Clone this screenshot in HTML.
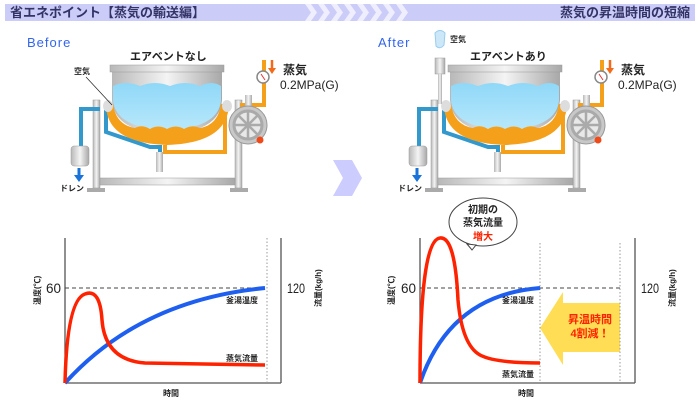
<!DOCTYPE html>
<html><head><meta charset="utf-8"><style>
html,body{margin:0;padding:0;background:#fff;width:699px;height:405px;overflow:hidden}
svg{display:block}
text{font-family:"Liberation Sans","Noto Sans CJK JP",sans-serif}
</style></head><body>
<svg width="699" height="405" viewBox="0 0 699 405" xmlns="http://www.w3.org/2000/svg">
<defs>
<linearGradient id="steel" x1="0" x2="1" y1="0" y2="0">
<stop offset="0" stop-color="#b8b8b8"/><stop offset="0.5" stop-color="#f4f4f4"/><stop offset="1" stop-color="#a8a8a8"/></linearGradient>
<linearGradient id="water" x1="0" x2="0" y1="0" y2="1">
<stop offset="0" stop-color="#8fd8f8"/><stop offset="1" stop-color="#b8e8fb"/></linearGradient>
<g id="kettle">
 <rect x="93" y="100" width="7" height="88" fill="url(#steel)" stroke="#999" stroke-width="0.5"/>
 <rect x="235" y="100" width="7" height="88" fill="url(#steel)" stroke="#999" stroke-width="0.5"/>
 <rect x="100" y="178" width="135" height="7" fill="url(#steel)" stroke="#999" stroke-width="0.5"/>
 <rect x="87" y="188" width="18" height="4" fill="#aaa"/>
 <rect x="230" y="188" width="18" height="4" fill="#aaa"/>
 <path d="M100 109 H81 V148" fill="none" stroke="#3399cc" stroke-width="4"/>
 <path d="M106 110 V132 L150 147 H160 V152" fill="none" stroke="#3399cc" stroke-width="4"/>
 <rect x="156" y="152" width="7" height="20" fill="url(#steel)"/>
 <rect x="71" y="146" width="18" height="20" rx="3" fill="url(#steel)" stroke="#999" stroke-width="0.5"/>
 <path d="M79 168 V176" stroke="#1a73d9" stroke-width="3"/>
 <polygon points="74,175 84,175 79,182" fill="#1a73d9"/>
 <path d="M165 145 V152 H225 V110" fill="none" stroke="#f5a01a" stroke-width="4"/>
 <path d="M112 72 V100 Q114 132 167 134 Q220 132 222 100 V72 Z" fill="url(#steel)"/>
 <path d="M113 86 Q125 80 140 86 Q155 80 170 86 Q185 80 200 86 Q212 80 221 86 V100 Q219 128 167 130 Q115 128 113 100 Z" fill="url(#water)"/>
 <path d="M106 104 H113 Q116 125 135 128 Q142 124 150 129 Q158 124 167 129 Q176 124 184 129 Q192 124 200 128 Q218 125 221 104 H229 Q228 143 167 145 Q106 143 106 104 Z" fill="#f5a01a"/>
 <rect x="110" y="65" width="114" height="7" fill="url(#steel)" stroke="#999" stroke-width="0.5"/>
 <ellipse cx="108" cy="106" rx="5" ry="6" fill="#ddd"/>
 <ellipse cx="227" cy="106" rx="5" ry="6" fill="#ddd"/>
 <path d="M264 60 V105 H240" fill="none" stroke="#f5a01a" stroke-width="4"/>
 <circle cx="263" cy="77" r="6" fill="#fff" stroke="#888" stroke-width="1.5"/>
 <line x1="261" y1="74" x2="265" y2="80" stroke="#e33" stroke-width="1"/>
 <path d="M272 60 V70" stroke="#f26a1a" stroke-width="2.5"/>
 <polygon points="268,68 276,68 272,74" fill="#f26a1a"/>
 <rect x="245" y="95" width="7" height="15" fill="url(#steel)"/>
 <circle cx="248" cy="125" r="19" fill="#c8c8c8" stroke="#999" stroke-width="1"/>
 <circle cx="248" cy="125" r="14" fill="#e8e8e8" stroke="#aaa" stroke-width="3"/>
 <g stroke="#aaa" stroke-width="2.5"><line x1="234" y1="125" x2="262" y2="125"/><line x1="248" y1="111" x2="248" y2="139"/><line x1="238" y1="115" x2="258" y2="135"/><line x1="258" y1="115" x2="238" y2="135"/></g>
 <circle cx="260" cy="140" r="3.5" fill="#f04a1a"/>
 <text x="283" y="74" font-size="12" font-weight="bold" fill="#222">蒸気</text>
 <text x="280" y="89" font-size="12" fill="#222">0.2MPa(G)</text>
 <text x="60" y="191" font-size="8" font-weight="bold" fill="#222">ドレン</text>
</g>
</defs>
<rect x="5" y="4" width="690" height="17" fill="#ccccf8"/>
<text x="10" y="17" font-size="13" font-weight="bold" fill="#333366">省エネポイント【蒸気の輸送編】</text>
<text x="690" y="17" font-size="13" font-weight="bold" fill="#333366" text-anchor="end">蒸気の昇温時間の短縮</text>
<g fill="#eeeeff">
<polygon points="305,4 311,4 317,12.5 311,21 305,21 311,12.5"/>
<polygon points="318,4 324,4 330,12.5 324,21 318,21 324,12.5"/>
<polygon points="331,4 337,4 343,12.5 337,21 331,21 337,12.5"/>
<polygon points="344,4 350,4 356,12.5 350,21 344,21 350,12.5"/>
<polygon points="357,4 363,4 369,12.5 363,21 357,21 363,12.5"/>
<polygon points="370,4 376,4 382,12.5 376,21 370,21 376,12.5"/>
<polygon points="383,4 389,4 395,12.5 389,21 383,21 389,12.5"/>
<polygon points="396,4 402,4 408,12.5 402,21 396,21 402,12.5"/>
</g>
<text x="27" y="47" font-size="13" fill="#3366ee" letter-spacing="1">Before</text>
<text x="378" y="47" font-size="13" fill="#3366ee" letter-spacing="1">After</text>
<text x="130" y="60" font-size="11" font-weight="bold" fill="#222">エアベントなし</text>
<text x="470" y="60" font-size="11" font-weight="bold" fill="#222">エアベントあり</text>
<use href="#kettle"/>
<text x="74" y="74" font-size="8" font-weight="bold" fill="#222">空気</text>
<line x1="86" y1="77" x2="112" y2="105" stroke="#222" stroke-width="0.7"/>
<use href="#kettle" transform="translate(338,0)"/>
<rect x="435" y="58" width="10" height="16" fill="url(#steel)" stroke="#999" stroke-width="0.5"/>
<rect x="438" y="74" width="4" height="30" fill="url(#steel)"/>
<path d="M435 33 Q440 28 445 33 L444 45 Q440 50 436 46 Z" fill="#cce8f8" stroke="#99ccee"/>
<text x="450" y="42" font-size="8" font-weight="bold" fill="#222">空気</text>
<polygon points="333,160 352,160 362,178 352,196 333,196 343,178" fill="#ccccff"/>
<g font-size="8" font-weight="bold" fill="#222">
<line x1="65" y1="238" x2="65" y2="383" stroke="#555" stroke-width="1.3"/>
<line x1="65" y1="383" x2="281" y2="383" stroke="#555" stroke-width="1.3"/>
<line x1="281" y1="238" x2="281" y2="383" stroke="#555" stroke-width="1.3"/>
<line x1="267" y1="238" x2="267" y2="383" stroke="#999" stroke-dasharray="1.5,2"/>
<line x1="65" y1="288" x2="267" y2="288" stroke="#444" stroke-dasharray="4,3"/>
<path d="M65 383 Q140 300 265 288" fill="none" stroke="#1e5ff0" stroke-width="4"/>
<path d="M65 383 Q67 300 85 294 Q100 288 102 320 Q105 360 145 363 L265 365" fill="none" stroke="#ff2200" stroke-width="3.5"/>
<text x="46" y="293" font-size="14" font-weight="normal" textLength="15" lengthAdjust="spacingAndGlyphs">60</text>
<text x="287" y="293" font-size="14" font-weight="normal" textLength="18" lengthAdjust="spacingAndGlyphs">120</text>
<text x="226" y="303">釜湯温度</text>
<text x="226" y="361">蒸気流量</text>
<text x="163" y="396">時間</text>
<text transform="translate(40,305) rotate(-90)">温度(℃)</text>
<text transform="translate(321,307) rotate(-90)">流量(kg/h)</text>
</g>
<g font-size="8" font-weight="bold" fill="#222">
<polygon points="540,328 563,292 563,303 620,303 620,352 563,352 563,365" fill="#ffdd55"/>
<text x="590" y="323" font-size="11" fill="#ff2200" text-anchor="middle">昇温時間</text>
<text x="590" y="337" font-size="11" fill="#ff2200" text-anchor="middle">4割減！</text>
<line x1="420" y1="238" x2="420" y2="383" stroke="#555" stroke-width="1.3"/>
<line x1="420" y1="383" x2="635" y2="383" stroke="#555" stroke-width="1.3"/>
<line x1="635" y1="238" x2="635" y2="383" stroke="#555" stroke-width="1.3"/>
<line x1="540" y1="243" x2="540" y2="383" stroke="#999" stroke-dasharray="1.5,2"/>
<line x1="620" y1="243" x2="620" y2="383" stroke="#999" stroke-dasharray="1.5,2"/>
<line x1="420" y1="288" x2="620" y2="288" stroke="#444" stroke-dasharray="4,3"/>
<path d="M420 383 Q450 295 540 288" fill="none" stroke="#1e5ff0" stroke-width="4"/>
<path d="M420 383 Q420 240 440 238 Q455 236 458 300 Q462 345 480 355 Q495 363 540 363" fill="none" stroke="#ff2200" stroke-width="3.5"/>
<ellipse cx="483" cy="222" rx="34" ry="24" fill="#fff" stroke="#444"/>
<polygon points="467,244 472,250 476,245" fill="#fff" stroke="#444"/>
<text x="483" y="213" font-size="10" text-anchor="middle">初期の</text>
<text x="483" y="226" font-size="10" text-anchor="middle">蒸気流量</text>
<text x="483" y="240" font-size="10" fill="#ff2200" text-anchor="middle">増大</text>
<text x="401" y="293" font-size="14" font-weight="normal" textLength="15" lengthAdjust="spacingAndGlyphs">60</text>
<text x="641" y="293" font-size="14" font-weight="normal" textLength="18" lengthAdjust="spacingAndGlyphs">120</text>
<text x="502" y="303">釜湯温度</text>
<text x="502" y="377">蒸気流量</text>
<text x="518" y="396">時間</text>
<text transform="translate(394,305) rotate(-90)">温度(℃)</text>
<text transform="translate(675,307) rotate(-90)">流量(kg/h)</text>
</g>
</svg>
</body></html>
